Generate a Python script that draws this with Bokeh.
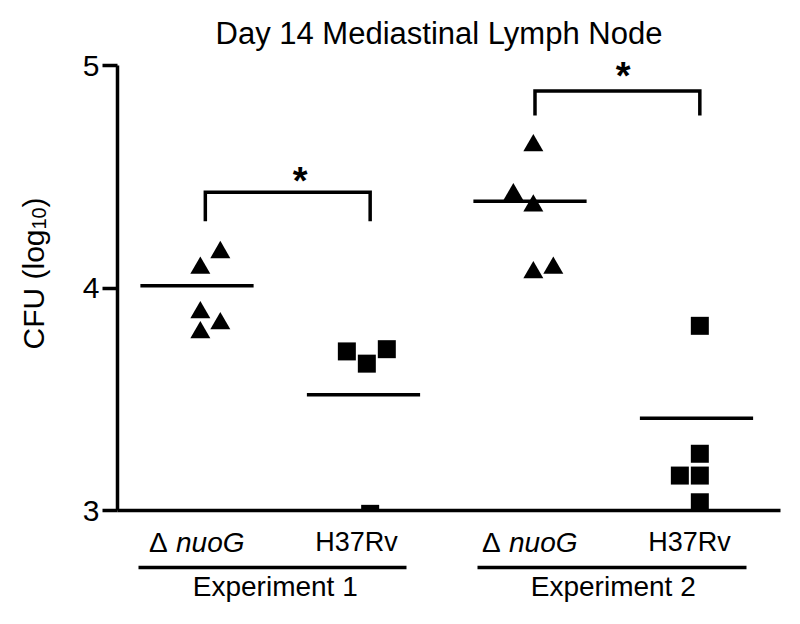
import math
from bokeh.plotting import figure
from bokeh.models import Label, FixedTicker, Range1d
from bokeh.layouts import row, column
from bokeh.core.properties import value
from bokeh.embed import file_html
from bokeh.resources import INLINE

# ---------------- data ----------------
title_text = "Day 14 Mediastinal Lymph Node"
y_axis_text = ["CFU (log", "10", ")"]
cat_labels = ["nuoG", "H37Rv", "nuoG", "H37Rv"]   # the two nuoG are preceded by an upright "Δ"
cat_pos = [1, 2, 3, 4]
exp_labels = ["Experiment 1", "Experiment 2"]
y_ticks = [3, 4, 5]

nuog_exp1 = [4.16, 4.09, 3.89, 3.84, 3.80]
nuog_exp1_jit = [0.14, 0.02, 0.02, 0.14, 0.02]
h37rv_exp1 = [3.715, 3.66, 3.725, 2.985]
h37rv_exp1_jit = [-0.10, 0.02, 0.14, 0.04]
nuog_exp2 = [4.64, 4.42, 4.37, 4.07, 4.09]
nuog_exp2_jit = [0.02, -0.10, 0.02, 0.02, 0.14]
h37rv_exp2 = [3.83, 3.255, 3.157, 3.157, 3.037]
h37rv_exp2_jit = [0.02, 0.02, -0.10, 0.02, 0.02]
group_means = [4.01, 3.52, 4.39, 3.415]

bracket_left = [1.05, 3.03]
bracket_right = [2.04, 4.02]
bracket_top = [4.43, 4.885]
bracket_leg = [4.30, 4.775]
sig_marks = ["*", "*"]
sig_x = [1.62, 3.56]
sig_y = [4.48, 4.953]

# ---------------- layout ----------------
TOTAL_H = 620
LEFT_W = 60
MAIN_W, MAIN_H = 735, 525
BOT_H = TOTAL_H - MAIN_H
FL, FR, FT, FB = 57, 15, 8, MAIN_H - 510     # frame: page x 117..780, page y 8..510
PX_X, PX_Y = 166.5, 222.5
x0 = 1 - (196.5 - 117) / PX_X
x1 = x0 + (MAIN_W - FL - FR) / PX_X
y0 = 3.0
y1 = y0 + (MAIN_H - FT - FB) / PX_Y

def xd(px):   # page px -> data x (main / bottom)
    return x0 + (px - 117) / PX_X

def yd(py):   # page px -> data y (main)
    return y0 + (510 - py) / PX_Y

def yb(py):   # page px -> y in the bottom / left strips
    return TOTAL_H - py

FONT = "Liberation Sans"
LW = 3.5

# ---------------- main plot ----------------
p = figure(width=MAIN_W, height=MAIN_H, x_range=Range1d(x0, x1), y_range=Range1d(y0, y1),
           output_backend="svg", toolbar_location=None,
           min_border_left=FL, min_border_right=FR, min_border_top=FT, min_border_bottom=FB)
p.outline_line_color = None
p.xgrid.visible = False
p.ygrid.visible = False

p.xaxis.ticker = FixedTicker(ticks=[])
p.xaxis.major_label_text_font_size = "0px"
p.xaxis.major_tick_line_color = None
p.xaxis.minor_tick_line_color = None
p.xaxis.axis_line_width = LW
p.xaxis.axis_line_color = "black"

p.yaxis.ticker = FixedTicker(ticks=y_ticks)
p.yaxis.bounds = (3, 5)
p.yaxis.minor_tick_line_color = None
p.yaxis.major_tick_out = 15
p.yaxis.major_tick_in = 0
p.yaxis.major_tick_line_width = LW
p.yaxis.major_tick_line_color = "black"
p.yaxis.axis_line_width = LW
p.yaxis.axis_line_color = "black"
p.yaxis.major_label_text_font = FONT
p.yaxis.major_label_text_font_size = "30px"
p.yaxis.major_label_text_color = "black"
p.yaxis.major_label_standoff = 3

HALF = 0.34
p.segment(x0=[c - HALF for c in cat_pos], y0=group_means,
          x1=[c + HALF for c in cat_pos], y1=group_means,
          line_width=LW, line_color="black", line_cap="butt")

series = [
    (nuog_exp1, nuog_exp1_jit, cat_pos[0], "triangle", 20),
    (h37rv_exp1, h37rv_exp1_jit, cat_pos[1], "square", 18),
    (nuog_exp2, nuog_exp2_jit, cat_pos[2], "triangle", 20),
    (h37rv_exp2, h37rv_exp2_jit, cat_pos[3], "square", 18),
]
for vals, jit, c, mk, sz in series:
    p.scatter(x=[c + j for j in jit], y=vals, marker=mk, size=sz,
              fill_color="black", line_color=None)

p.multi_line(xs=[[l, l, r, r] for l, r in zip(bracket_left, bracket_right)],
             ys=[[g, t, t, g] for g, t in zip(bracket_leg, bracket_top)],
             line_width=LW, line_color="black", line_join="miter")
for sx, sy, s in zip(sig_x, sig_y, sig_marks):
    p.add_layout(Label(x=sx, y=sy, text=s, text_align="center",
                       text_baseline="alphabetic", text_font=FONT, text_font_style="bold",
                       text_font_size="38px", text_color="black"))

p.add_layout(Label(x=xd(215), y=yd(33), text=title_text, text_align="left",
                   text_baseline="alphabetic", text_font=FONT, text_font_size="31px",
                   text_color="black"))

# ---------------- left strip: y axis title ----------------
pl = figure(width=LEFT_W, height=TOTAL_H, x_range=Range1d(0, LEFT_W), y_range=Range1d(0, TOTAL_H),
            output_backend="svg", toolbar_location=None, x_axis_type=None, y_axis_type=None,
            min_border_left=0, min_border_right=0, min_border_top=0, min_border_bottom=0)
pl.outline_line_color = None
pl.grid.visible = False
pl.text(x=[33], y=[yb(349)], text=[y_axis_text[0]], angle=math.pi / 2,
        text_align="left", text_baseline="alphabetic", text_font=value(FONT),
        text_font_size=value("30px"), text_color="black")
pl.text(x=[38], y=[yb(229)], text=[y_axis_text[1]], angle=math.pi / 2,
        text_align="left", text_baseline="alphabetic", text_font=value(FONT),
        text_font_size=value("20px"), text_color="black")
pl.text(x=[33], y=[yb(207)], text=[y_axis_text[2]], angle=math.pi / 2,
        text_align="left", text_baseline="alphabetic", text_font=value(FONT),
        text_font_size=value("30px"), text_color="black")

# ---------------- bottom strip: category / experiment labels ----------------
pb = figure(width=MAIN_W, height=BOT_H, x_range=p.x_range, y_range=Range1d(0, BOT_H),
            output_backend="svg", toolbar_location=None, x_axis_type=None, y_axis_type=None,
            min_border_left=FL, min_border_right=FR, min_border_top=0, min_border_bottom=0)
pb.outline_line_color = None
pb.grid.visible = False

cat_px = [196.5 + (c - 1) * PX_X for c in cat_pos]
top = yb(MAIN_H + 1)
delta_x = [xd(cat_px[i] - 48) for i in (0, 2)]
nuog_x = [xd(cat_px[i] - 21) for i in (0, 2)]
h37_x = [xd(cat_px[i] - 7) for i in (1, 3)]
pb.text(x=delta_x, y=[top] * 2, text=["Δ"] * 2, text_align="left", text_baseline="top",
        text_font=value(FONT), text_font_size=value("28px"), text_color="black")
pb.text(x=nuog_x, y=[top] * 2, text=[cat_labels[0], cat_labels[2]], text_align="left",
        text_baseline="top", text_font=value(FONT), text_font_style=value("italic"),
        text_font_size=value("28px"), text_color="black")
pb.text(x=h37_x, y=[top] * 2, text=[cat_labels[1], cat_labels[3]], text_align="center",
        text_baseline="top", text_font=value(FONT), text_font_size=value("27px"),
        text_color="black")

ul_left = [xd(cat_px[0] - 58.5), xd(cat_px[2] - 52.5)]
ul_right = [xd(cat_px[1] + 43), xd(cat_px[3] + 50)]
pb.segment(x0=ul_left, y0=[yb(567)] * 2, x1=ul_right, y1=[yb(567)] * 2,
           line_width=LW, line_color="black", line_cap="butt")
exp_x = [xd((cat_px[0] + cat_px[1]) / 2 - 5), xd((cat_px[2] + cat_px[3]) / 2)]
pb.text(x=exp_x, y=[yb(586)] * 2, text=exp_labels, text_align="center",
        text_baseline="alphabetic", text_font=value(FONT), text_font_size=value("28px"),
        text_color="black")

layout = row(pl, column(p, pb))
open("out.html", "w").write(file_html(layout, INLINE))
